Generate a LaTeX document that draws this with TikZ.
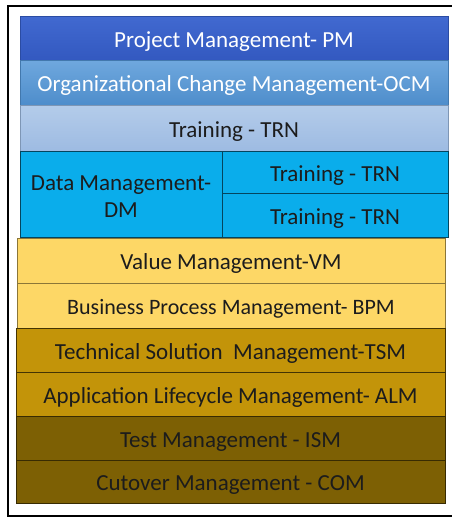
\documentclass[tikz,border=0pt]{standalone}
\usepackage{fontspec}
\setmainfont{Carlito}
\usetikzlibrary{shadows}
\definecolor{pmA}{HTML}{4169D0}
\definecolor{pmB}{HTML}{3359C0}
\definecolor{ocmA}{HTML}{6FA8DE}
\definecolor{ocmB}{HTML}{4E8DCB}
\definecolor{trnA}{HTML}{B4CCEA}
\definecolor{trnB}{HTML}{9DBBE2}
\definecolor{dmF}{HTML}{0AADEB}
\definecolor{vmF}{HTML}{FDD766}
\definecolor{tsmF}{HTML}{C39409}
\definecolor{tmF}{HTML}{7D6004}
\definecolor{txt}{HTML}{1C1C1C}
\tikzset{
  x=1pt,y=-1pt,
  bar/.style={rectangle, inner sep=0pt, anchor=center, font=\fontsize{23}{27}\selectfont, text=txt, line width=0.8pt, text height=20pt, text depth=1.2pt},
  pmbar/.style={bar, top color=pmA, bottom color=pmB, draw=pmB!85!black, text=white, drop shadow={opacity=0.25, shadow xshift=1pt, shadow yshift=-1.5pt}},
  ocmbar/.style={bar, top color=ocmA, bottom color=ocmB, draw=ocmB!85!black, text=white, drop shadow={opacity=0.25, shadow xshift=1pt, shadow yshift=-1.5pt}},
  trnbar/.style={bar, top color=trnA, bottom color=trnB, draw=trnB!80!black},
  dmbar/.style={bar, fill=dmF, draw=dmF!40!black},
  vmbar/.style={bar, fill=vmF, draw=vmF!55!black},
  tsmbar/.style={bar, fill=tsmF, draw=tsmF!35!black},
  tmbar/.style={bar, fill=tmF, draw=tmF!45!black},
}
\begin{document}
\begin{tikzpicture}
\useasboundingbox (0,0) rectangle (452,517);
\fill[white] (0,0) rectangle (452,517);
\draw[line width=2pt] (460,6) -- (8,6) -- (8,516) -- (460,516);
\node[pmbar, minimum width=428pt, minimum height=44pt] (pm) at (234,38) {Project Management- PM};
\node[ocmbar, minimum width=428pt, minimum height=45pt] (ocm) at (234,82.5) {Organizational Change Management-OCM};
\node[trnbar, minimum width=428pt, minimum height=46pt] (trn) at (234,128) {Training - TRN};
\node[dmbar, minimum width=202pt, minimum height=86pt] (dm) at (121,194) {};
\node[font=\fontsize{23}{27}\selectfont, text=txt, align=center, inner sep=0pt] (dmlbl) at (121,197) {Data Management-\\DM};
\node[dmbar, minimum width=226pt, minimum height=42pt] (trnb) at (335,172) {Training - TRN};
\node[dmbar, minimum width=226pt, minimum height=44pt] (trnc) at (335,215) {Training - TRN};
\node[vmbar, minimum width=428pt, minimum height=45pt] (vm) at (231,260.5) {Value Management-VM};
\node[vmbar, minimum width=428pt, minimum height=45pt, font=\fontsize{22}{26}\selectfont] (bpm) at (231,305.5) {Business Process Management- BPM};
\node[tsmbar, minimum width=429pt, minimum height=44pt] (tsm) at (230.5,350) {Technical Solution\ \ Management-TSM};
\node[tsmbar, minimum width=429pt, minimum height=44pt] (alm) at (230.5,394) {Application Lifecycle Management- ALM};
\node[tmbar, minimum width=429pt, minimum height=44pt] (tm) at (230.5,438) {Test Management - ISM};
\node[tmbar, minimum width=429pt, minimum height=43pt] (com) at (230.5,481.5) {Cutover Management - COM};
\end{tikzpicture}
\end{document}
